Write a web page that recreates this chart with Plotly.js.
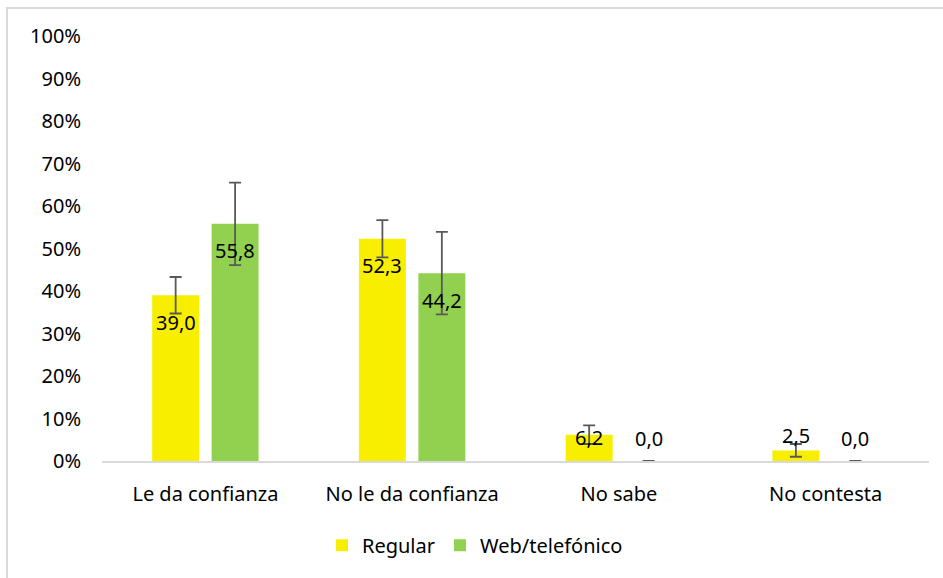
<!DOCTYPE html>
<html>
<head>
<meta charset="utf-8">
<script src="https://cdn.plot.ly/plotly-3.0.1.min.js"></script>
<style>
html,body{margin:0;padding:0;background:#fff;}
#wrap{position:relative;width:943px;height:578px;overflow:hidden;}
#frame{position:absolute;left:6px;top:7px;width:960px;height:600px;border-left:2px solid #d9d9d9;border-top:2px solid #d9d9d9;box-sizing:border-box;}
#chart{position:absolute;left:0;top:0;width:943px;height:578px;}
</style>
</head>
<body>
<div id="wrap"><div id="frame"></div><div id="chart"></div></div>
<script>
// Data
const categories = ["Le da confianza", "No le da confianza", "No sabe", "No contesta"];
const seriesNames = ["Regular", "Web/telefónico"];
const regularValues = [39.0, 52.3, 6.2, 2.5];
const webValues = [55.8, 44.2, 0.0, 0.0];
const regularErrors = [4.3, 4.4, 2.2, 1.5];
const webErrors = [9.7, 9.7, 0.0, 0.0];
const yTickValues = [0, 10, 20, 30, 40, 50, 60, 70, 80, 90, 100];
const yTickLabels = ["0%", "10%", "20%", "30%", "40%", "50%", "60%", "70%", "80%", "90%", "100%"];

// Styles
const colors = ["#f7ee00", "#92d050"];
const fontFamily = "'Noto Sans', 'Open Sans', sans-serif";
const labelShiftRegular = [-27, -27, -3, 15];
const labelShiftWeb = [-27, -27, 23, 23];

const fmt = v => v.toFixed(1).replace('.', ',');

const errStyle = {type: 'data', visible: true, color: '#595959', thickness: 1.8, width: 6};

const traces = [
  {type: 'bar', name: seriesNames[0], x: categories, y: regularValues,
   marker: {color: colors[0]},
   error_y: Object.assign({array: regularErrors}, errStyle), hoverinfo: 'skip'},
  {type: 'bar', name: seriesNames[1], x: categories, y: webValues,
   marker: {color: colors[1]},
   error_y: Object.assign({array: webErrors}, errStyle), hoverinfo: 'skip'}
];

const annotations = [];
const offsetPx = 29.75;
categories.forEach((c, i) => {
  annotations.push({x: c, y: regularValues[i], xref: 'x', yref: 'y', text: fmt(regularValues[i]),
    showarrow: false, xshift: -offsetPx, yshift: labelShiftRegular[i], yanchor: 'middle',
    font: {family: fontFamily, size: 20, color: '#000'}});
  annotations.push({x: c, y: webValues[i], xref: 'x', yref: 'y', text: fmt(webValues[i]),
    showarrow: false, xshift: offsetPx, yshift: labelShiftWeb[i], yanchor: 'middle',
    font: {family: fontFamily, size: 20, color: '#000'}});
});

const layout = {
  width: 943, height: 578,
  paper_bgcolor: 'rgba(0,0,0,0)', plot_bgcolor: 'rgba(0,0,0,0)',
  margin: {l: 101.5, r: 13.5, t: 36, b: 117},
  barmode: 'group', bargap: 0.425, bargroupgap: 0.21,
  font: {family: fontFamily, size: 20, color: '#000'},
  xaxis: {showgrid: false, showline: true, linecolor: '#d9d9d9', linewidth: 2,
          ticks: '', ticklabelstandoff: 14, tickfont: {size: 20}, zeroline: false, fixedrange: true},
  yaxis: {range: [0, 100], tickmode: 'array', tickvals: yTickValues, ticktext: yTickLabels,
          showgrid: false, zeroline: false, showline: false, ticks: '', ticklabelstandoff: 20,
          tickfont: {size: 20}, fixedrange: true},
  showlegend: true,
  legend: {orientation: 'h', x: 0.266, xanchor: 'left', y: -0.198, yanchor: 'middle',
           font: {size: 20}, itemwidth: 30, traceorder: 'normal', bgcolor: 'rgba(0,0,0,0)'},
  annotations: annotations
};

Plotly.newPlot('chart', traces, layout, {displayModeBar: false, staticPlot: true});
</script>
</body>
</html>
